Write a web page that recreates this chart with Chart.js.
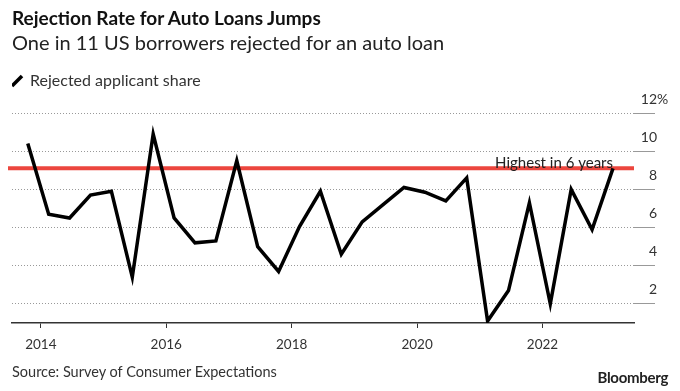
<!DOCTYPE html>
<html>
<head>
<meta charset="utf-8">
<script src="https://cdn.jsdelivr.net/npm/chart.js@4.4.0/dist/chart.umd.min.js"></script>
<style>
  body { margin: 0; background: #fff; }
  #wrap { position: relative; width: 680px; height: 391px; font-family: Lato, sans-serif; color: #111; }
  #chart { position: absolute; left: 0; top: 0; }
  .title { position: absolute; left: 12px; top: 6px; font-size: 19px; font-weight: 700; white-space: nowrap; }
  .subtitle { position: absolute; left: 12px; top: 30px; font-size: 20px; color: #222; white-space: nowrap; }
  .source { position: absolute; left: 12px; top: 363px; font-size: 14.5px; color: #333; white-space: nowrap; }
  .logo { position: absolute; right: 12px; top: 368px; font-size: 15px; font-weight: 700; color: #222; letter-spacing: -0.3px; }
</style>
</head>
<body>
<div id="wrap">
  <canvas id="chart" width="680" height="391"></canvas>
  <div class="title">Rejection Rate for Auto Loans Jumps</div>
  <div class="subtitle">One in 11 US borrowers rejected for an auto loan</div>
  <div class="source">Source: Survey of Consumer Expectations</div>
  <div class="logo">Bloomberg</div>
</div>
<script>
// survey waves, every four months
var surveyDates = ['2013-10', '2014-02', '2014-06', '2014-10', '2015-02', '2015-06', '2015-10',
    '2016-02', '2016-06', '2016-10', '2017-02', '2017-06', '2017-10', '2018-02', '2018-06',
    '2018-10', '2019-02', '2019-06', '2019-10', '2020-02', '2020-06', '2020-10', '2021-02',
    '2021-06', '2021-10', '2022-02', '2022-06', '2022-10', '2023-02'];
// rejected applicant share, %
var rejectedShare = [10.4, 6.7, 6.5, 7.7, 7.9, 3.4, 10.9,
    6.5, 5.2, 5.3, 9.5, 5.0, 3.7, 6.05, 7.9,
    4.6, 6.3, 7.2, 8.1, 7.85, 7.4, 8.6, 1.1,
    2.7, 7.3, 2.0, 8.0, 5.9, 9.1];
var yearTicks = [2014, 2016, 2018, 2020, 2022];
var shareTicks = [2, 4, 6, 8, 10, 12];
var highestLevel = 9.1;

function toYear(d) {
    var p = d.split('-');
    return +p[0] + (+p[1] - 0.5) / 12;
}
var points = surveyDates.map(function (d, i) { return { x: toYear(d), y: rejectedShare[i] }; });

// red "highest" line + note, and the % sign on the top tick
var highestLine = {
    id: 'highestLine',
    beforeDatasetsDraw: function (chart) {
        var c = chart.ctx, a = chart.chartArea;
        var y = chart.scales.y.getPixelForValue(highestLevel);
        var xEnd = chart.scales.x.getPixelForValue(points[points.length - 1].x);
        c.save();
        c.strokeStyle = '#ec463e';
        c.lineWidth = 4;
        c.beginPath();
        c.moveTo(a.left - 4, y);
        c.lineTo(a.right, y);
        c.stroke();
        c.fillStyle = '#222';
        c.font = '15px Lato';
        c.textAlign = 'right';
        c.fillText('Highest in 6 years', xEnd, y - 5);
        c.restore();
    },
    afterDraw: function (chart) {
        var items = chart.scales.y.getLabelItems();
        var top = items.filter(function (it) { return it.label === '12'; })[0];
        if (!top) return;
        var c = chart.ctx;
        c.save();
        c.fillStyle = '#333';
        c.font = '14px Lato';
        c.textAlign = 'left';
        c.textBaseline = 'middle';
        c.fillText('%', top.options.translation[0], top.options.translation[1]);
        c.restore();
    }
};

var legendGap = {
    id: 'legendGap',
    beforeInit: function (chart) {
        var fit = chart.legend.fit;
        chart.legend.fit = function () {
            fit.bind(chart.legend)();
            this.height += 14;
        };
    }
};

var ctx = document.getElementById('chart').getContext('2d');
var chart = new Chart(ctx, {
    type: 'line',
    data: {
        datasets: [{
            label: 'Rejected applicant share',
            data: points,
            borderColor: '#000',
            backgroundColor: '#000',
            borderWidth: 3.5,
            pointRadius: 0,
            pointStyle: 'line',
            pointRotation: -45,
            tension: 0
        }]
    },
    options: {
        responsive: false,
        animation: false,
        layout: { padding: { top: 73, left: 12, right: 23, bottom: 28 } },
        plugins: {
            legend: {
                align: 'start',
                labels: {
                    usePointStyle: true,
                    boxWidth: 10,
                    boxHeight: 10,
                    padding: 0,
                    color: '#333',
                    font: { family: 'Lato', size: 16 }
                }
            },
            tooltip: { enabled: false }
        },
        scales: {
            x: {
                type: 'linear',
                min: 2013.54,
                max: 2023.46,
                afterBuildTicks: function (axis) { axis.ticks = yearTicks.map(function (v) { return { value: v }; }); },
                afterFit: function (axis) { axis.height = 40; },
                grid: { drawOnChartArea: false, tickLength: 5, color: '#333' },
                border: { color: '#333', width: 1.5 },
                ticks: {
                    padding: 9,
                    maxRotation: 0,
                    color: '#333',
                    font: { family: 'Lato', size: 13.5 },
                    callback: function (v) { return String(v); }
                }
            },
            y: {
                position: 'right',
                min: 1,
                max: 12,
                afterBuildTicks: function (axis) { axis.ticks = shareTicks.map(function (v) { return { value: v }; }); },
                afterFit: function (axis) { axis.width = 23; },
                grid: { color: '#999', tickLength: 21 },
                border: { display: false, dash: [1, 2] },
                ticks: {
                    crossAlign: 'far',
                    padding: 2,
                    labelOffset: -14,
                    color: '#333',
                    font: { family: 'Lato', size: 14 },
                    callback: function (v) { return String(v); }
                }
            }
        }
    },
    plugins: [highestLine, legendGap]
});
</script>
</body>
</html>
